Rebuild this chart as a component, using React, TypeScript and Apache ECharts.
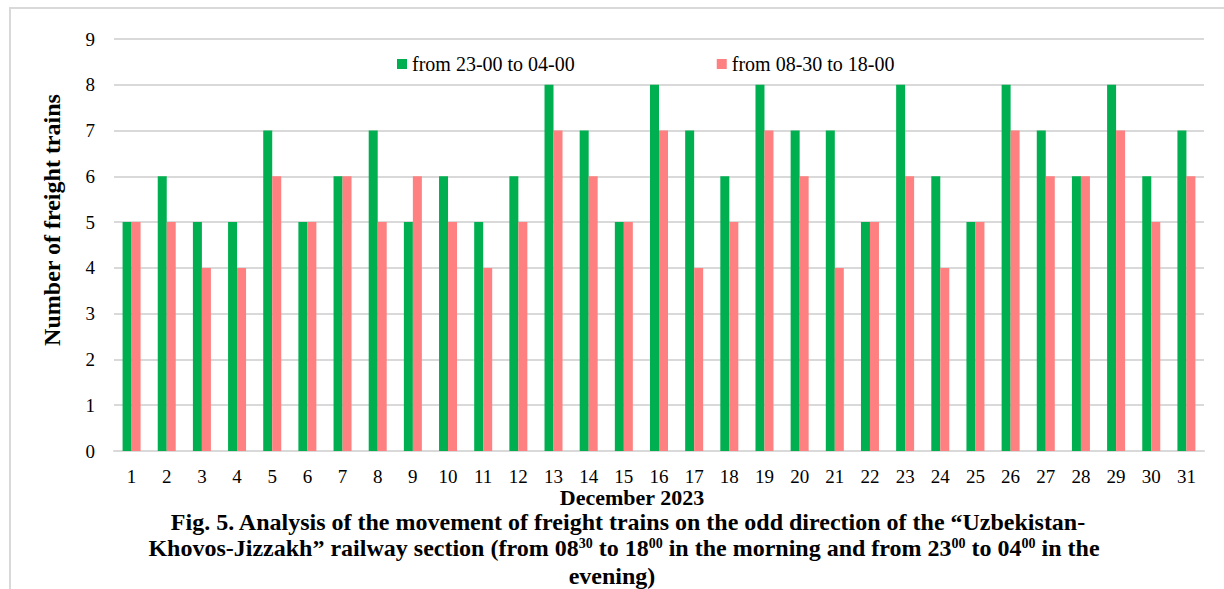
import React, { useEffect, useRef } from "react";
import * as echarts from "echarts";

const days = Array.from({ length: 31 }, (_, i) => String(i + 1));
const nightTrains = [5, 6, 5, 5, 7, 5, 6, 7, 5, 6, 5, 6, 8, 7, 5, 8, 7, 6, 8, 7, 7, 5, 8, 6, 5, 8, 7, 6, 8, 6, 7];
const dayTrains = [5, 5, 4, 4, 6, 5, 6, 5, 6, 5, 4, 5, 7, 6, 5, 7, 4, 5, 7, 6, 4, 5, 6, 4, 5, 7, 6, 6, 7, 5, 6];
const seriesNames = ["from 23-00 to 04-00", "from 08-30 to 18-00"];

const FONT = "'Liberation Serif', 'Times New Roman', serif";

export default function App() {
  const ref = useRef<HTMLDivElement>(null);
  useEffect(() => {
    if (!ref.current) return;
    const chart = echarts.init(ref.current, undefined, { renderer: "svg" });
    const sup = { fontSize: 14, fontWeight: "bold", fontFamily: FONT, color: "#000", verticalAlign: "top", padding: [0, 0, 10, 0] };
    const norm = { fontSize: 24, fontWeight: "bold", fontFamily: FONT, color: "#000", lineHeight: 22 };
    chart.setOption({
      animation: false,
      backgroundColor: "#fff",
      textStyle: { fontFamily: FONT },
      grid: { left: 114, right: 20, top: 39, bottom: 138, containLabel: false },
      legend: {
        top: 49,
        left: 392,
        itemGap: 142,
        itemWidth: 10,
        itemHeight: 10,
        icon: "rect",
        textStyle: { fontSize: 20, fontFamily: FONT, color: "#000" },
        data: seriesNames,
      },
      xAxis: {
        type: "category",
        data: days,
        axisLine: { lineStyle: { color: "#d9d9d9", width: 2 } },
        axisTick: { show: false },
        axisLabel: { fontSize: 19, fontFamily: FONT, color: "#000", margin: 16, lineHeight: 18 },
      },
      yAxis: {
        type: "value",
        min: 0,
        max: 9,
        interval: 1,
        axisLine: { show: false },
        axisTick: { show: false },
        splitLine: { lineStyle: { color: "#d9d9d9", width: 2 } },
        axisLabel: { fontSize: 19, fontFamily: FONT, color: "#000", margin: 19 },
      },
      series: [
        { name: seriesNames[0], type: "bar", data: nightTrains, barWidth: 9, barGap: "0%", itemStyle: { color: "#00B050" } },
        { name: seriesNames[1], type: "bar", data: dayTrains, barWidth: 9, barGap: "0%", itemStyle: { color: "#FF8080" } },
      ],
      graphic: [
        { type: "rect", shape: { x: 10, y: 8, width: 1300, height: 700 }, style: { fill: "none", stroke: "#d9d9d9", lineWidth: 2 }, silent: true, z: -1 },
        {
          type: "text",
          x: 52,
          y: 220,
          rotation: Math.PI / 2,
          style: { text: "Number of freight trains", fontSize: 24, fontWeight: "bold", fontFamily: FONT, fill: "#000", align: "center", verticalAlign: "middle" },
        },
        {
          type: "text",
          x: 632,
          y: 497,
          style: { text: "December 2023", fontSize: 22, lineHeight: 18, fontWeight: "bold", fontFamily: FONT, fill: "#000", align: "center", verticalAlign: "middle" },
        },
        {
          type: "text",
          x: 628,
          y: 522,
          style: { text: "Fig. 5. Analysis of the movement of freight trains on the odd direction of the \u201cUzbekistan-", fontSize: 24, lineHeight: 22, fontWeight: "bold", fontFamily: FONT, fill: "#000", align: "center", verticalAlign: "middle" },
        },
        {
          type: "text",
          x: 624,
          y: 548,
          style: {
            text: "{n|Khovos-Jizzakh\u201d railway section (from 08}{s|30}{n| to 18}{s|00}{n| in the morning and from 23}{s|00}{n| to 04}{s|00}{n| in the}",
            rich: { n: norm, s: sup },
            fill: "#000",
            align: "center",
            verticalAlign: "middle",
          },
        },
        {
          type: "text",
          x: 612,
          y: 576,
          style: { text: "evening)", fontSize: 24, lineHeight: 22, fontWeight: "bold", fontFamily: FONT, fill: "#000", align: "center", verticalAlign: "middle" },
        },
      ],
    });
    return () => chart.dispose();
  }, []);
  return <div ref={ref} style={{ position: "absolute", left: 0, top: 0, width: 1224, height: 589 }} />;
}
